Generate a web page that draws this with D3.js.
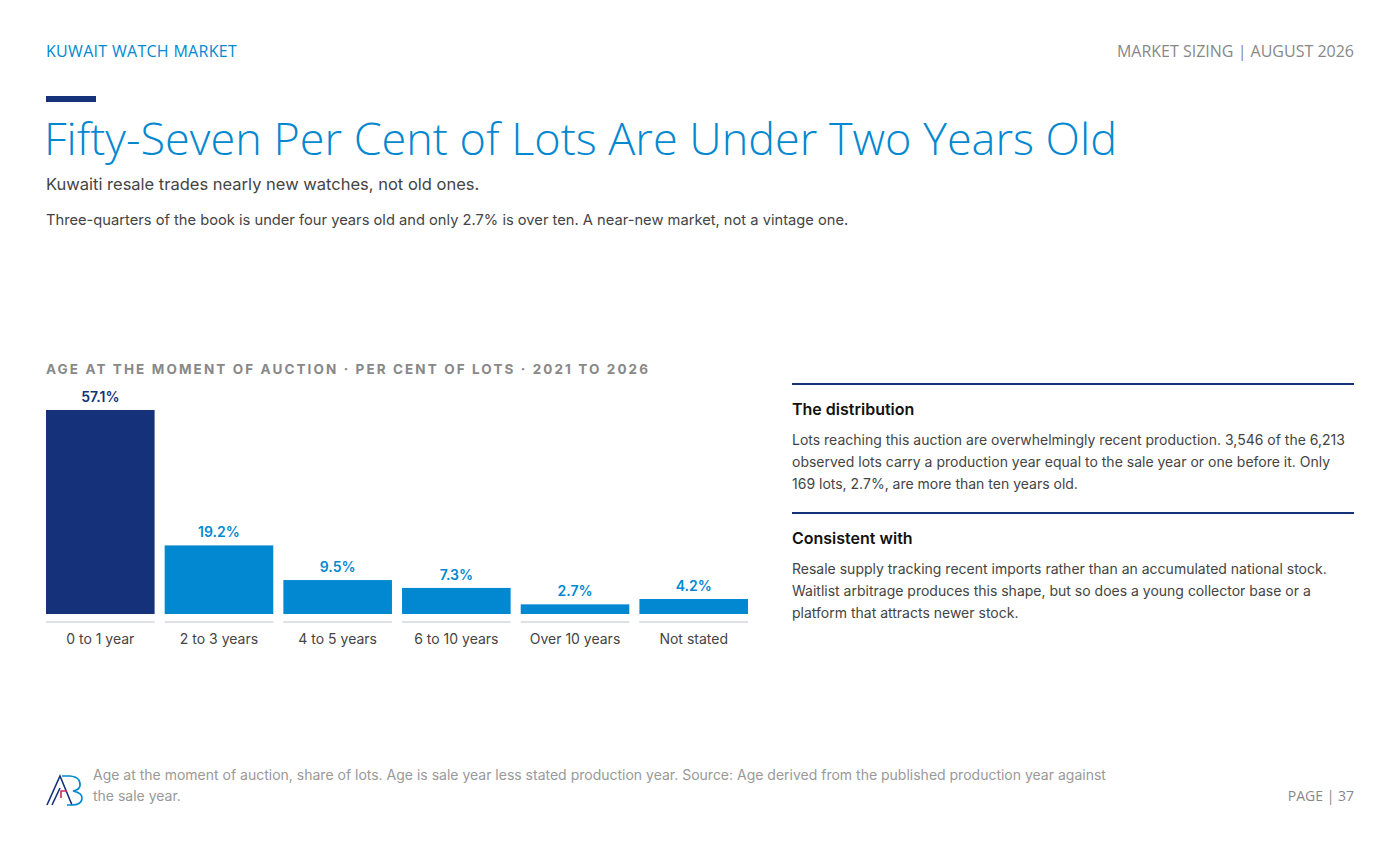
<!DOCTYPE html>
<html>
<head>
<meta charset="utf-8">
<script src="https://cdn.jsdelivr.net/npm/d3@7"></script>
<style>
  body { margin: 0; background: #fff; font-family: Inter, "Noto Sans", sans-serif; }
  svg text { font-family: Inter, "Noto Sans", sans-serif; }
</style>
</head>
<body>
<svg id="page" width="1400" height="852"></svg>
<script>
// chart data
const categories = ["0 to 1 year", "2 to 3 years", "4 to 5 years", "6 to 10 years", "Over 10 years", "Not stated"];
const shares = [57.1, 19.2, 9.5, 7.3, 2.7, 4.2];
const valueLabels = ["57.1%", "19.2%", "9.5%", "7.3%", "2.7%", "4.2%"];

const NAVY = "#14317a", BLUE = "#0288d1";
const svg = d3.select("#page");

// header
svg.append("text").attr("x", 46).attr("y", 57).attr("fill", BLUE).style("font-size", "16px")
  .style("font-family", "'Open Sans', sans-serif").style("letter-spacing", "0.3px").text("KUWAIT WATCH MARKET");
svg.append("text").attr("x", 1354).attr("y", 57).attr("text-anchor", "end").attr("fill", "#888")
  .style("font-size", "16px").style("font-family", "'Open Sans', sans-serif").text("MARKET SIZING | AUGUST 2026");
svg.append("rect").attr("x", 46).attr("y", 96).attr("width", 50).attr("height", 6).attr("fill", NAVY);
svg.append("text").attr("x", 44).attr("y", 155).attr("fill", BLUE).style("font-size", "45px")
  .style("font-weight", 300).style("font-family", "'Open Sans', sans-serif")
  .text("Fifty-Seven Per Cent of Lots Are Under Two Years Old");
svg.append("text").attr("x", 46).attr("y", 190).attr("fill", "#444").style("font-size", "16.5px")
  .text("Kuwaiti resale trades nearly new watches, not old ones.");
svg.append("text").attr("x", 46).attr("y", 225).attr("fill", "#444").style("font-size", "14.7px")
  .text("Three-quarters of the book is under four years old and only 2.7% is over ten. A near-new market, not a vintage one.");

// chart
svg.append("text").attr("x", 46).attr("y", 374).attr("fill", "#888").style("font-size", "13.5px")
  .style("font-weight", 700).style("letter-spacing", "2.1px")
  .text("AGE AT THE MOMENT OF AUCTION · PER CENT OF LOTS · 2021 TO 2026");

const x = d3.scaleBand().domain(categories).range([46, 748]).paddingInner(0.085);
const y = d3.scaleLinear().domain([0, 57.1]).range([614, 410]);
const g = svg.append("g");
const data = categories.map((c, i) => ({ c, v: shares[i], l: valueLabels[i], i }));

g.selectAll("rect.bar").data(data).join("rect").attr("class", "bar")
  .attr("x", d => x(d.c)).attr("width", x.bandwidth())
  .attr("y", d => y(d.v)).attr("height", d => y(0) - y(d.v))
  .attr("fill", d => d.i === 0 ? NAVY : BLUE);
g.selectAll("rect.base").data(data).join("rect").attr("class", "base")
  .attr("x", d => x(d.c)).attr("width", x.bandwidth()).attr("y", 621).attr("height", 2).attr("fill", "#dde0e6");
g.selectAll("text.val").data(data).join("text").attr("class", "val")
  .attr("x", d => x(d.c) + x.bandwidth() / 2).attr("y", d => y(d.v) - 8).attr("text-anchor", "middle")
  .attr("fill", d => d.i === 0 ? NAVY : BLUE).style("font-size", "14px").style("font-weight", 600).text(d => d.l);
g.selectAll("text.cat").data(data).join("text").attr("class", "cat")
  .attr("x", d => x(d.c) + x.bandwidth() / 2).attr("y", 644).attr("text-anchor", "middle")
  .attr("fill", "#444").style("font-size", "14px").text(d => d.c);

// side notes
const notes = [
  { top: 384, head: "The distribution", lines: [
    "Lots reaching this auction are overwhelmingly recent production. 3,546 of the 6,213",
    "observed lots carry a production year equal to the sale year or one before it. Only",
    "169 lots, 2.7%, are more than ten years old."] },
  { top: 513, head: "Consistent with", lines: [
    "Resale supply tracking recent imports rather than an accumulated national stock.",
    "Waitlist arbitrage produces this shape, but so does a young collector base or a",
    "platform that attracts newer stock."] }
];
notes.forEach(n => {
  svg.append("rect").attr("x", 792).attr("y", n.top - 1).attr("width", 562).attr("height", 2).attr("fill", NAVY);
  svg.append("text").attr("x", 792).attr("y", n.top + 31).attr("fill", "#111").style("font-size", "16px")
    .style("font-weight", 600).text(n.head);
  n.lines.forEach((l, k) => svg.append("text").attr("x", 792).attr("y", n.top + 61 + k * 22)
    .attr("fill", "#444").style("font-size", "14px").text(l));
});

// footer
const logo = svg.append("g").attr("fill", "none").attr("stroke-width", 1.6);
logo.append("path").attr("d", "M47,805 L60,776 L72,805 M52,805 L60,788").attr("stroke", NAVY);
logo.append("path").attr("d", "M62,776 L70,776 Q81,777 80,786 Q79,790 73,791 Q83,793 82,799 Q81,805 72,805 L67,805").attr("stroke", BLUE);
logo.append("path").attr("d", "M61,798 L61,791 L67,791").attr("stroke", "#d6275a");
svg.append("text").attr("x", 93).attr("y", 780).attr("fill", "#999").style("font-size", "14px")
  .text("Age at the moment of auction, share of lots. Age is sale year less stated production year. Source: Age derived from the published production year against");
svg.append("text").attr("x", 93).attr("y", 801).attr("fill", "#999").style("font-size", "14px").text("the sale year.");
svg.append("text").attr("x", 1354).attr("y", 801).attr("text-anchor", "end").attr("fill", "#888")
  .style("font-size", "14px").style("font-family", "'Open Sans', sans-serif").text("PAGE | 37");
</script>
</body>
</html>
